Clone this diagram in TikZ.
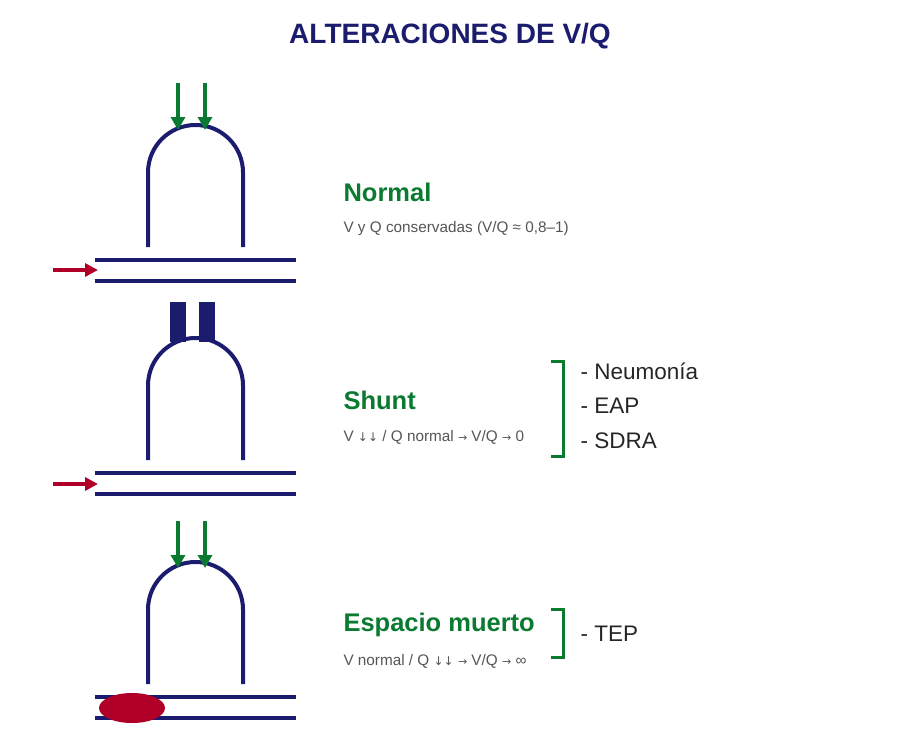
\documentclass[tikz,border=0pt]{standalone}
\usepackage{fontspec}
\setmainfont{Liberation Sans}
\newfontfamily\djv{DejaVu Sans}
\usetikzlibrary{arrows.meta}
\definecolor{navy}{HTML}{1C1C6E}
\definecolor{grn}{HTML}{0A7A30}
\definecolor{rd}{HTML}{B00028}
\definecolor{gr}{HTML}{555555}
\begin{document}
\begin{tikzpicture}[x=1pt,y=-1pt,
  wall/.style={navy,line width=4pt},
  garrow/.style={grn,line width=3.5pt,-{Triangle[length=13pt,width=14pt]}},
  rarrow/.style={rd,line width=3.5pt,-{Triangle[length=13pt,width=13pt]}},
  ttl/.style={anchor=west,grn,font=\bfseries\fontsize{25.5}{28}\selectfont},
  sub/.style={anchor=west,gr,font=\fontsize{15.3}{18}\selectfont},
  item/.style={anchor=west,black!85,font=\fontsize{22.5}{26}\selectfont},
  brk/.style={grn,line width=3pt}]
\useasboundingbox (0,0) rectangle (900,734);
\node[navy,font=\bfseries\fontsize{28}{30}\selectfont] (title) at (450,36) {ALTERACIONES DE V/Q};
% panels
\foreach \o/\n in {0/a,213/b,437/c}{
  \draw[wall] (148,247+\o) -- (148,172.5+\o) arc[start angle=180,end angle=360,radius=47.5] -- (243,247+\o);
  \draw[wall] (95,260+\o) -- (296,260+\o);
  \draw[wall] (95,281+\o) -- (296,281+\o);
}
% panel 1 arrows
\coordinate (g1s) at (178,83); \coordinate (g1e) at (178,130);
\coordinate (g2s) at (205,83); \coordinate (g2e) at (205,130);
\draw[garrow] (g1s) -- (g1e);
\draw[garrow] (g2s) -- (g2e);
\coordinate (r1s) at (53,270); \coordinate (r1e) at (98,270);
\draw[rarrow] (r1s) -- (r1e);
% panel 2
\fill[navy] (170,302) rectangle (186,342);
\fill[navy] (199,302) rectangle (215,342);
\coordinate (r2s) at (53,484); \coordinate (r2e) at (98,484);
\draw[rarrow] (r2s) -- (r2e);
% panel 3
\coordinate (g3s) at (178,521); \coordinate (g3e) at (178,568);
\coordinate (g4s) at (205,521); \coordinate (g4e) at (205,568);
\draw[garrow] (g3s) -- (g3e);
\draw[garrow] (g4s) -- (g4e);
\fill[rd] (132,708) ellipse[x radius=33,y radius=15];
% texts
\node[ttl] (n1) at (340,192) {Normal};
\node[sub] (s1) at (340,229) {V y Q conservadas (V/Q ≈ 0,8–1)};
\node[ttl] (n2) at (340,400) {Shunt};
\node[sub] (s2) at (340,437) {V {\djv\fontsize{12}{14}\selectfont ↓↓} / Q normal {\djv\fontsize{11}{14}\selectfont →} V/Q {\djv\fontsize{11}{14}\selectfont →} 0};
\node[ttl] (n3) at (340,625) {Espacio muerto};
\node[sub] (s3) at (340,661) {V normal / Q {\djv\fontsize{12}{14}\selectfont ↓↓} {\djv\fontsize{11}{14}\selectfont →} V/Q {\djv\fontsize{11}{14}\selectfont →} ∞};
% brackets
\draw[brk] (551,361) -- (563,361) -- (563,456) -- (551,456);
\node[item] (i1) at (577,371) {- Neumonía};
\node[item] (i2) at (577,406) {- EAP};
\node[item] (i3) at (577,441) {- SDRA};
\draw[brk] (551,609) -- (563,609) -- (563,657) -- (551,657);
\node[item] (i4) at (577,634) {- TEP};
\end{tikzpicture}
\end{document}
